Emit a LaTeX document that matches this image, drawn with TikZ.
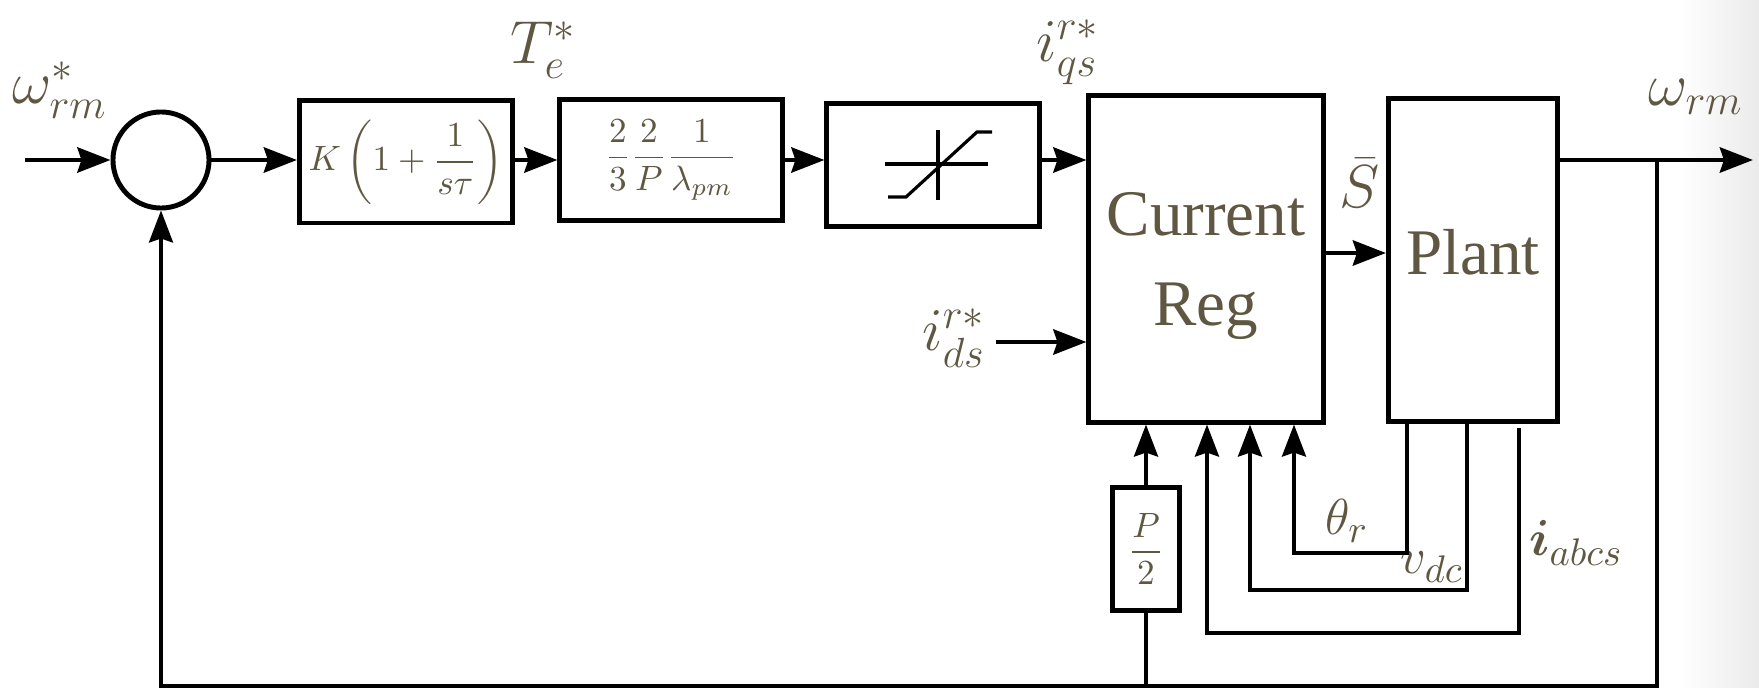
\documentclass[tikz,border=0pt]{standalone}
\usepackage{amsmath}
\usepackage{fontspec}
\setmainfont{Liberation Serif}
\usetikzlibrary{arrows.meta}
\begin{document}
\begin{tikzpicture}[x=0.01cm, y=-0.01cm, line join=miter,
  blk/.style={draw, line width=1.4pt, inner sep=0pt, text=txtbrown},
  sig/.style={line width=1.4pt, -{Stealth[length=0.33cm, width=0.25cm, inset=0.04cm]}},
  fb/.style={line width=1pt},
  fbarr/.style={fb, -{Stealth[length=0.32cm, width=0.24cm, inset=0.04cm]}},
  lbl/.style={text=txtbrown, inner sep=0pt, font=\fontsize{17}{20}\selectfont},
  sml/.style={text=txtbrown, inner sep=0pt, font=\fontsize{15}{18}\selectfont}]
  \definecolor{txtbrown}{RGB}{95,87,66}
  \useasboundingbox (0,0) rectangle (1759,688);
  \shade[left color=white, right color=black!8] (1680,0) rectangle (1759,688);

  \coordinate (in) at (25,160);
  \coordinate (out) at (1753,160);
  \coordinate (br) at (1657,160);
  \coordinate (bot) at (1657,686);
  \coordinate (dsin) at (996,342);

  \node[blk, circle, minimum size=0.96cm] (sum) at (161,160) {};
  \node[blk, minimum width=2.13cm, minimum height=1.22cm, font=\fontsize{10}{12}\selectfont] (pi) at (406,162)
    {$K\left(1+\dfrac{1}{s\tau}\right)$};
  \node[blk, minimum width=2.22cm, minimum height=1.21cm, font=\fontsize{10}{12}\selectfont] (gain) at (671,160)
    {$\dfrac{2}{3}\dfrac{2}{P}\dfrac{1}{\lambda_{pm}}$};
  \node[blk, minimum width=2.12cm, minimum height=1.23cm] (sat) at (933,165) {};
  \node[blk, minimum width=2.34cm, minimum height=3.26cm, align=center, text depth=0pt,
    font=\fontsize{18.5}{25.6}\selectfont] (creg) at (1206,259) {Current\\Reg};
  \node[blk, minimum width=1.69cm, minimum height=3.23cm, text depth=0.16cm,
    font=\fontsize{18.5}{22}\selectfont] (plant) at (1473,260) {Plant};
  \node[blk, minimum width=0.67cm, minimum height=1.23cm, font=\fontsize{10}{12}\selectfont] (half) at (1146,549)
    {$\dfrac{P}{2}$};

  \draw[line width=0.9pt] (885,164) -- (988,164) (938,130) -- (938,200);
  \draw[line width=0.9pt] (888,197) -- (906,197) -- (977,132) -- (992,132);

  \node[lbl] (wref) at (60,90) {$\omega_{rm}^{*}$};
  \node[lbl] (te) at (543,50) {$T_e^{*}$};
  \node[lbl] (iqs) at (1068,52) {$i_{qs}^{r*}$};
  \node[lbl] (ids) at (954,338) {$i_{ds}^{r*}$};
  \node[lbl] (sbar) at (1360,183) {$\bar{S}$};
  \node[lbl] (wout) at (1696,97) {$\omega_{rm}$};
  \node[sml] (th) at (1347,521) {$\theta_r$};
  \node[sml] (vdc) at (1432,567) {$v_{dc}$};
  \node[sml] (iabc) at (1576,543) {$\boldsymbol{i}_{abcs}$};

  \draw[sig] (in) -- (sum.west);
  \draw[sig] (sum.east) -- (pi.west |- in);
  \draw[sig] (pi.east |- in) -- (gain.west |- in);
  \draw[sig] (gain.east |- in) -- (sat.west |- in);
  \draw[sig] (sat.east |- in) -- (creg.west |- in);
  \draw[sig] (creg.east |- 0,253) -- (plant.west |- 0,253);
  \draw[sig] (plant.east |- in) -- (out);
  \draw[sig] (dsin) -- (dsin -| creg.west);

  \draw[fbarr] (br) -- (bot) -| (sum.south);
  \draw[fb] (half.south) -- (half.south |- bot);
  \draw[fbarr] (half.north) -- (half.north |- creg.south);
  \draw[fbarr] (plant.south -| 1407,0) |- (1294,553) -- (1294,553 |- creg.south);
  \draw[fbarr] (plant.south -| 1467,0) |- (1250,590) -- (1250,590 |- creg.south);
  \draw[fbarr] (1519,428) |- (1207,633) -- (1207,633 |- creg.south);
\end{tikzpicture}
\end{document}
